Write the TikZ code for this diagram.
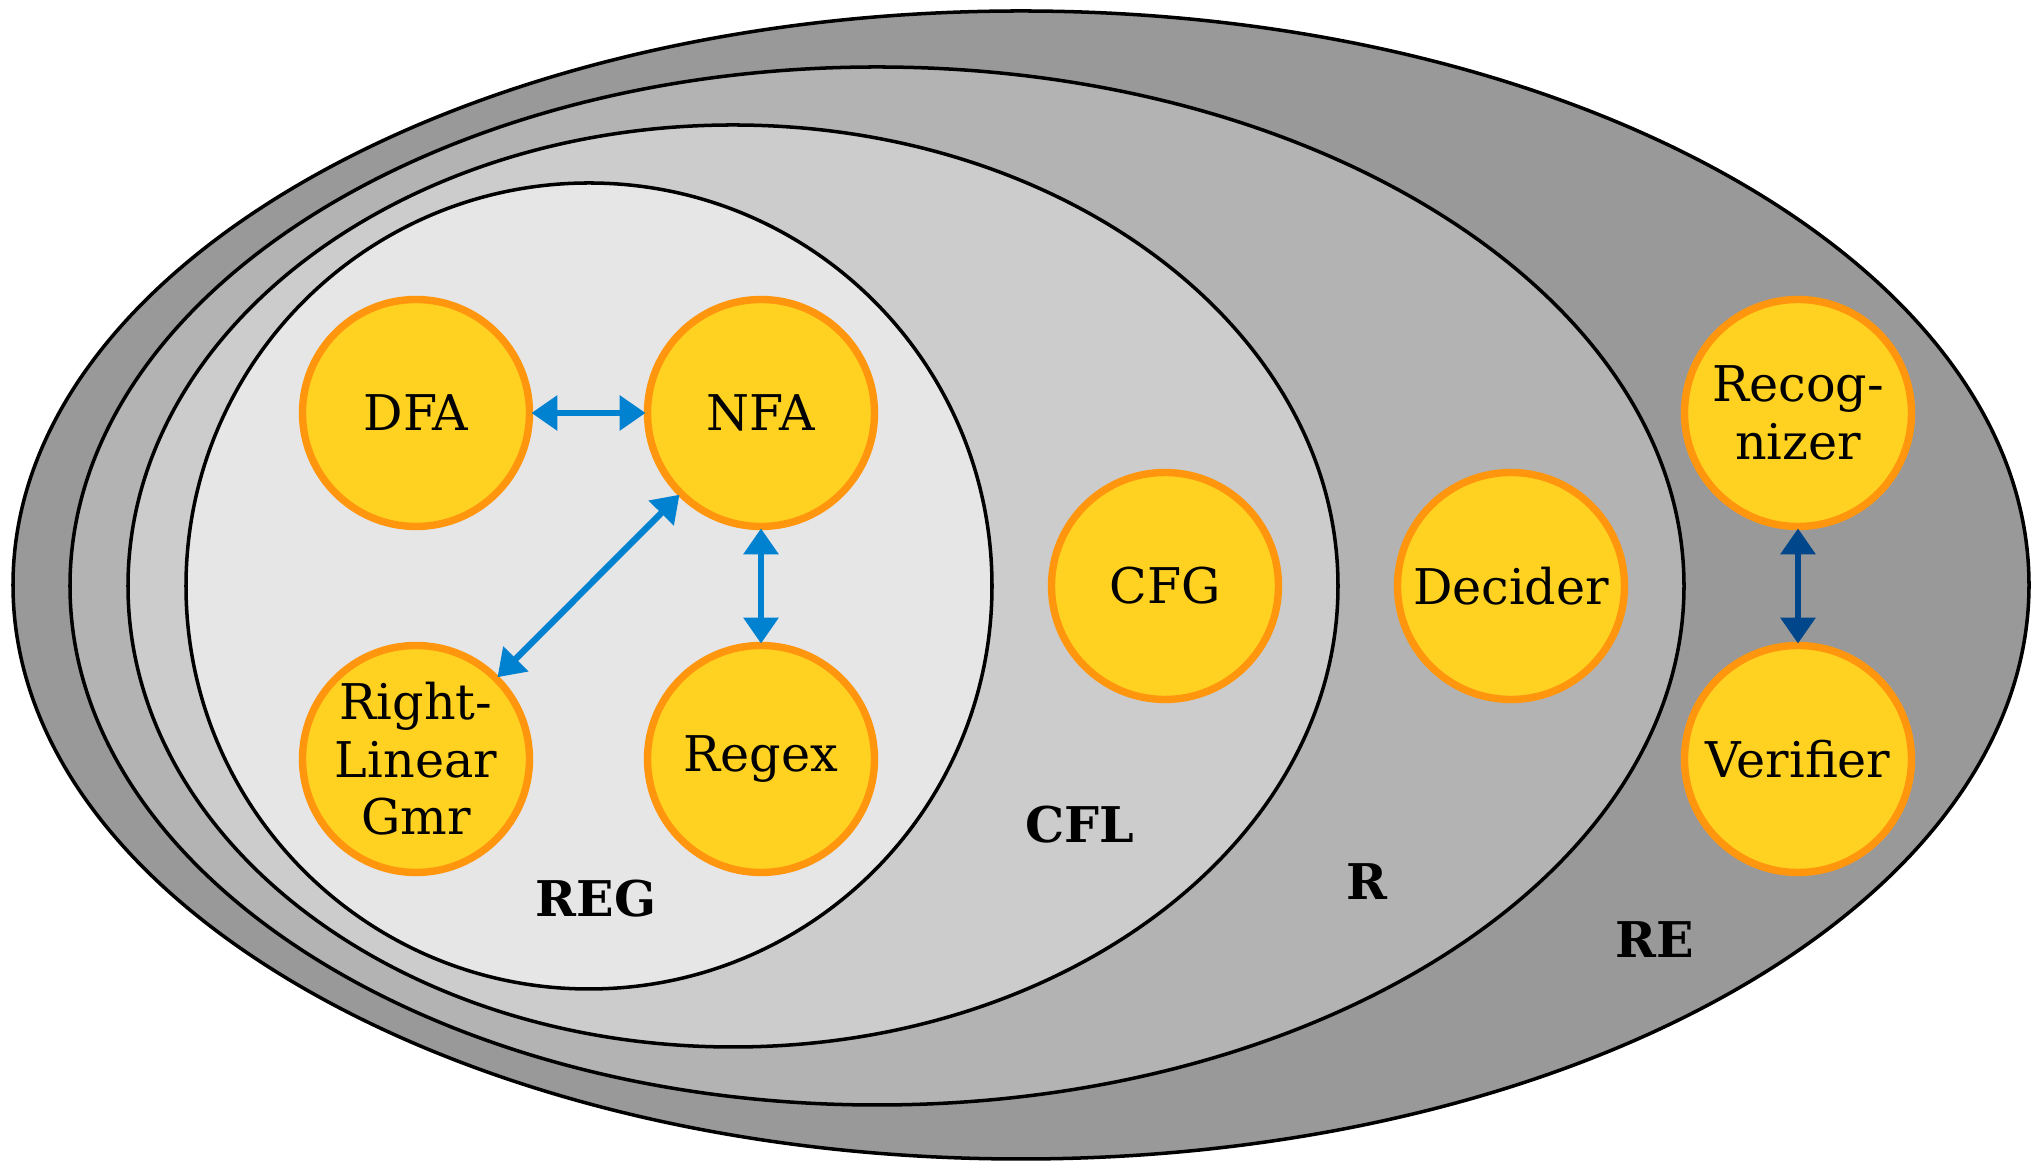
\documentclass[tikz,border=0pt]{standalone}
\usepackage{fontspec}
\setmainfont{DejaVu Serif}
\usetikzlibrary{arrows.meta}
\definecolor{regrey}{RGB}{153,153,153}
\definecolor{rgrey}{RGB}{179,179,179}
\definecolor{cflgrey}{RGB}{204,204,204}
\definecolor{reggrey}{RGB}{230,230,230}
\definecolor{stategold}{RGB}{255,210,34}
\definecolor{rimorange}{RGB}{255,150,14}
\definecolor{linkblue}{RGB}{0,130,208}
\definecolor{deepblue}{RGB}{0,70,138}
\tikzset{
	machine/.style={circle, draw=rimorange, fill=stategold, line width=2.1pt, minimum size=2.27cm, inner sep=0pt, align=center, font=\fontsize{14}{16.4}\selectfont},
	classname/.style={font=\fontsize{14}{16.8}\selectfont\bfseries},
	equiv/.style={{Triangle[length=2.6mm,width=3.4mm]}-{Triangle[length=2.6mm,width=3.4mm]}, line width=1.8pt, draw=linkblue, shorten <=-0.5pt, shorten >=-0.5pt},
}
\begin{document}
\begin{tikzpicture}
		\useasboundingbox (0, 0) rectangle (20.37, 11.61);
		\begin{scope}[line width=1pt]
			\draw[fill=regrey] (10.21, 5.76) ellipse (10.08 and 5.74);
			\draw[fill=rgrey] (8.77, 5.75) ellipse (8.07 and 5.19);
			\draw[fill=cflgrey] (7.33, 5.75) ellipse (6.05 and 4.61);
			\draw[fill=reggrey] (5.89, 5.75) circle (4.03);
		\end{scope}
		\node[classname] (reg) at (5.96, 2.62) {REG};
		\node[classname] (cfl) at (10.80, 3.36) {CFL};
		\node[classname] (rec) at (13.67, 2.79) {R};
		\node[classname] (re) at (16.55, 2.21) {RE};
		\node[machine] (dfa) at (4.16, 7.48) {DFA};
		\node[machine] (nfa) at (7.61, 7.48) {NFA};
		\node[machine] (rlg) at (4.16, 4.02) {Right-\\Linear\\Gmr};
		\node[machine] (regex) at (7.61, 4.02) {Regex};
		\node[machine] (cfg) at (11.65, 5.75) {CFG};
		\node[machine] (decider) at (15.11, 5.75) {Decider};
		\node[machine] (recognizer) at (17.98, 7.48) {Recog-\\nizer};
		\node[machine] (verifier) at (17.98, 4.02) {Verifier};
		\draw[equiv] (dfa) -- (nfa);
		\draw[equiv] (rlg) -- (nfa);
		\draw[equiv] (nfa) -- (regex);
		\draw[equiv, draw=deepblue] (recognizer) -- (verifier);
	\end{tikzpicture}
\end{document}
